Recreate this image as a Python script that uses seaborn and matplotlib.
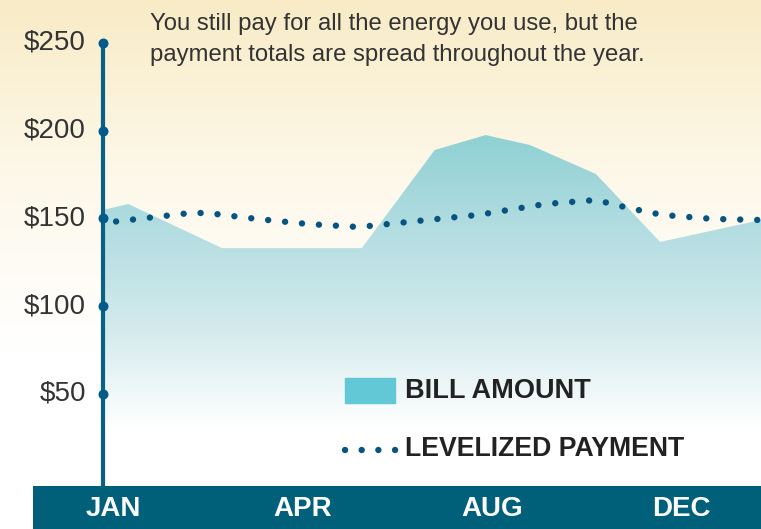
import numpy as np
import matplotlib
matplotlib.use("Agg")
import matplotlib.pyplot as plt
from matplotlib.colors import LinearSegmentedColormap
import seaborn as sns

# ── Dados ────────────────────────────────────────────────────────
# x em "meses" (0 = eixo, 12 = borda direita)
bill_x = [0, 0.46, 2.17, 4.72, 6.05, 6.98, 7.79, 8.99, 10.16, 12.0]
bill_y = [154.7, 158.1, 133.0, 133.0, 188.9, 197.4, 191.7, 175.2, 136.5, 149.0]

level_x = [0, 1.59, 1.9, 2.81, 3.74, 4.67, 5.91, 6.84, 8.06, 8.99, 9.59, 10.2, 11.13, 12.0]
level_y = [147.3, 153.0, 153.0, 149.6, 146.7, 145.0, 149.0, 151.9, 158.1, 160.4, 155.8, 151.9, 149.6, 149.0]

y_ticks = [50, 100, 150, 200, 250]
y_labels = ["$50", "$100", "$150", "$200", "$250"]
months = ["JAN", "APR", "AUG", "DEC"]

NOTE = ("You still pay for all the energy you use, but the\n"
        "payment totals are spread throughout the year.")

DARK = "#00607a"
AXIS = "#0a6186"
DOTS = "#06547f"
LEG = "#62c8d6"

sns.set_style("white")
plt.rcParams["font.family"] = ["Liberation Sans", "DejaVu Sans"]

W, H = 761, 529
fig = plt.figure(figsize=(W / 100, H / 100), dpi=100)

# fundo: degradê creme (topo) -> branco
bg = fig.add_axes([0, 0, 1, 1])
bg.set_axis_off()
cmap_bg = LinearSegmentedColormap.from_list("bg", ["#ffffff", "#ffffff", "#fdf8ea", "#f8ebc6"])
grad = np.linspace(0, 1, 256).reshape(-1, 1)
bg.imshow(grad, aspect="auto", cmap=cmap_bg, origin="lower", extent=[0, 1, 0, 1], vmin=0, vmax=1)
bg.set_xlim(0, 1)
bg.set_ylim(0, 1)

# eixo principal
x0, ybot = 103, 486
ax = fig.add_axes([x0 / W, (H - ybot) / H, (W - x0) / W, ybot / H])
ax.patch.set_alpha(0)
ymin = (481.5 - 486) / 1.755
ymax = 481.5 / 1.755

# área da conta com degradê
poly = ax.fill_between(bill_x, ymin, bill_y, color="white", lw=0, zorder=0.9)
cmap_area = LinearSegmentedColormap.from_list("area", ["#ffffff", "#d4eaed", "#b3dde1", "#8dd0d3"])
img = ax.imshow(np.linspace(0, 1, 256).reshape(-1, 1), aspect="auto", cmap=cmap_area,
                origin="lower", extent=[0, 12, 30, 200], zorder=1)
img.set_clip_path(poly.get_paths()[0], transform=ax.transData)
ax.set_xlim(0, 12)
ax.set_ylim(ymin, ymax)

# linha pontilhada do pagamento nivelado
sns.lineplot(x=level_x, y=level_y, ax=ax, color=DOTS, lw=4.6, zorder=3,
             dashes=False, sort=False)
ln = ax.lines[-1]
ln.set_linestyle((0.6, (0.01, 2.65)))
ln.set_dash_capstyle("round")

# eixo y: linha vertical com pontos nos ticks
ax.plot([0, 0], [ymin, 250], color=AXIS, lw=3, zorder=4, clip_on=False,
        solid_capstyle="butt")
ax.scatter([0] * len(y_ticks), y_ticks, s=38, color="#005a8c", zorder=5, clip_on=False)
for v, lab in zip(y_ticks, y_labels):
    ax.text(-0.31, v, lab, ha="right", va="center", fontsize=20, color="#333333")

for s in ax.spines.values():
    s.set_visible(False)
ax.set_xticks([])
ax.set_yticks([])

# texto explicativo
fig.text(150 / W, 1 - 13 / H, NOTE, ha="left", va="top", fontsize=17.2,
         color="#333333", linespacing=1.55)

# legenda
fig.patches.append(plt.Rectangle((345 / W, 1 - 403 / H), 50 / W, 25 / H,
                                 transform=fig.transFigure, color=LEG))
fig.text(405 / W, 1 - 391 / H, "BILL AMOUNT", ha="left", va="center",
         fontsize=19.5, fontweight="bold", color="#222222")
fig.add_artist(plt.Line2D([345 / W, 397 / W], [1 - 450 / H] * 2, color=DOTS, lw=4.6,
                          linestyle=(0, (0.01, 2.6)), dash_capstyle="round"))
fig.text(405 / W, 1 - 449 / H, "LEVELIZED PAYMENT", ha="left", va="center",
         fontsize=19.2, fontweight="bold", color="#222222")

# barra inferior com meses
bar = fig.add_axes([33 / W, 0, (W - 33) / W, 43 / H])
bar.set_facecolor(DARK)
for s in bar.spines.values():
    s.set_visible(False)
bar.set_xticks([])
bar.set_yticks([])
for xp, m in zip(np.linspace(0.111, 0.89, len(months)), months):
    bar.text(xp, 0.46, m, ha="center", va="center", fontsize=20,
             fontweight="bold", color="white", transform=bar.transAxes)

fig.savefig("out.png", dpi=100)
